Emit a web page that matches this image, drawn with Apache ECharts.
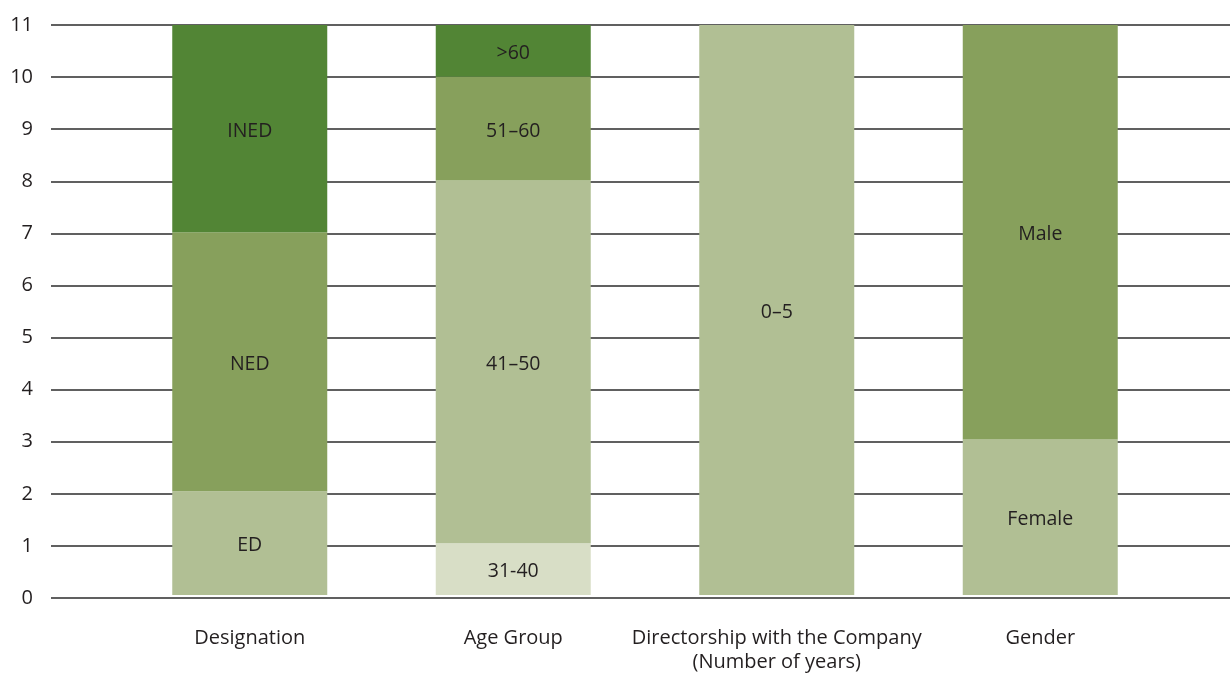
<!DOCTYPE html>
<html><head><meta charset="utf-8">
<script src="https://cdn.jsdelivr.net/npm/echarts@6/dist/echarts.min.js"></script>
<style>html,body{margin:0;padding:0;background:#fff}#c{width:1230px;height:674px}</style>
</head><body><div id="c"></div>
<script>
const categories = ['Designation', 'Age Group', 'Directorship with the Company\n(Number of years)', 'Gender'];
const yTicks = [0,1,2,3,4,5,6,7,8,9,10,11];
const level1Values = [2, 1, 11, 3];
const level1Names = ['ED', '31-40', '0–5', 'Female'];
const level2Values = [5, 7, null, 8];
const level2Names = ['NED', '41–50', '', 'Male'];
const level3Values = [4, 2, null, null];
const level3Names = ['INED', '51–60', '', ''];
const level4Values = [null, 1, null, null];
const level4Names = ['', '>60', '', ''];

const DARK = '#528535', MID = '#87a05c', LIGHT = '#b1bf94', PALE = '#d8dec6';
const colorMap = {
  'ED': LIGHT, 'NED': MID, 'INED': DARK,
  '31-40': PALE, '41–50': LIGHT, '51–60': MID, '>60': DARK,
  '0–5': LIGHT, 'Female': LIGHT, 'Male': MID
};
const FONT = 'Open Sans';

function mk(values, names) {
  return {
    type: 'bar', stack: 's', xAxisIndex: 1, yAxisIndex: 1, barWidth: 155, z: 5,
    data: values.map((v, i) => ({
      value: v, itemStyle: { color: colorMap[names[i]] || LIGHT },
      label: { formatter: names[i] }
    })),
    label: { show: true, position: 'inside', offset: [0, 2.5], color: '#231f20', fontSize: 19.5, fontFamily: FONT },
    emphasis: { disabled: true }
  };
}

const chart = echarts.init(document.getElementById('c'));
chart.setOption({
  animation: false,
  grid: [
    { left: 51, right: 0, top: 25, bottom: 76 },
    { left: 118, right: 58, top: 25, bottom: 76 }
  ],
  xAxis: [
    { type: 'category', gridIndex: 0, data: categories, show: false },
    { type: 'category', gridIndex: 1, data: categories,
      axisLine: { show: false }, axisTick: { show: false },
      axisLabel: { color: '#231f20', fontSize: 20, fontFamily: FONT, margin: 31, lineHeight: 24, interval: 0 } }
  ],
  yAxis: [
    { type: 'value', gridIndex: 0, min: 0, max: 11, interval: 1,
      axisLine: { show: false }, axisTick: { show: false },
      axisLabel: { color: '#231f20', fontSize: 20, fontFamily: FONT, margin: 18,
        formatter: v => yTicks.includes(v) ? String(v) : '' },
      splitLine: { lineStyle: { color: '#2b2b2b', width: 1.5 } } },
    { type: 'value', gridIndex: 1, min: 0, max: 11, interval: 1, show: false, splitLine: { show: false } }
  ],
  series: [
    mk(level1Values, level1Names),
    mk(level2Values, level2Names),
    mk(level3Values, level3Names),
    mk(level4Values, level4Names)
  ]
});
</script></body></html>
